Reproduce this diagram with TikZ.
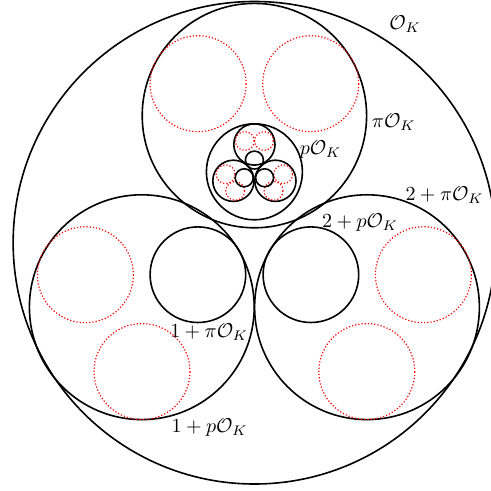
\documentclass[tikz,border=0pt]{standalone}
\begin{document}
\begin{tikzpicture}[x=0.5pt,y=-0.5pt,
  solidc/.style={draw=black,line width=0.8pt},
  dotc/.style={draw=red,densely dotted,line width=0.6pt},
  lab/.style={inner sep=0pt,font=\normalsize}]
\useasboundingbox (0,0) rectangle (491,491);
\clip (0,0) rectangle (491,491);
% whole ring
\draw[solidc] (254.4,242.75) circle (241.25);
% level 1
\draw[solidc] (254.4,115.6) circle (112.2);
\draw[solidc] (141.8,307.2) circle (112.4);
\draw[solidc] (367.0,307.2) circle (112.4);
% level 2 in top circle
\draw[dotc] (198.1,83.7) circle (48);
\draw[dotc] (310.7,83.7) circle (48);
\draw[solidc] (254.4,171.8) circle (48);
% level 2 in left circle
\draw[solidc] (197.9,274.7) circle (47.8);
\draw[dotc] (85.4,274.7) circle (48);
\draw[dotc] (142.0,371.6) circle (48);
% level 2 in right circle
\draw[solidc] (310.9,274.7) circle (47.8);
\draw[dotc] (423.4,274.7) circle (48);
\draw[dotc] (366.8,371.6) circle (48);
% inner copy in pO_K
\draw[solidc] (254.4,144.5) circle (20.6);
\draw[solidc] (233.4,180.8) circle (20.6);
\draw[solidc] (275.4,180.8) circle (20.6);
\draw[dotc] (244.8,141.0) circle (9.4);
\draw[dotc] (264.0,141.0) circle (9.4);
\draw[dotc] (225.6,174.2) circle (9.4);
\draw[dotc] (235.2,190.9) circle (9.4);
\draw[dotc] (283.2,174.2) circle (9.4);
\draw[dotc] (273.6,190.9) circle (9.4);
\draw[solidc] (254.4,160.1) circle (9);
\draw[solidc] (244.2,177.8) circle (9);
\draw[solidc] (264.6,177.8) circle (9);
% labels
\node[lab] (ok) at (405,24) {$\mathcal{O}_K$};
\node[lab] (piok) at (393.7,122) {$\pi\mathcal{O}_K$};
\node[lab] (pok) at (320.5,150) {$p\mathcal{O}_K$};
\node[lab] (twopi) at (444.5,195) {$2+\pi\mathcal{O}_K$};
\node[lab] (twop) at (360,222.5) {$2+p\mathcal{O}_K$};
\node[lab] (onepi) at (209.2,331.7) {$1+\pi\mathcal{O}_K$};
\node[lab] (onep) at (209.5,428) {$1+p\mathcal{O}_K$};
\end{tikzpicture}
\end{document}
